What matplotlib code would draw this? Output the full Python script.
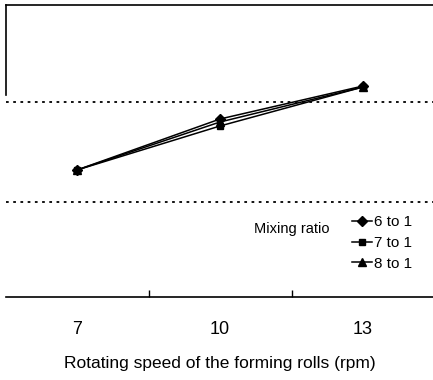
import matplotlib.pyplot as plt

plt.rcParams['font.family'] = ['Liberation Sans', 'DejaVu Sans']

speeds = ['7', '10', '13']
ratio_labels = ['6 to 1', '7 to 1', '8 to 1']
ratio_6 = [1.32, 1.83, 2.16]
ratio_7 = [1.32, 1.76, 2.15]
ratio_8 = [1.32, 1.80, 2.15]
markers = ['D', 's', '^']

fig = plt.figure(figsize=(4.33, 3.8), dpi=100)
ax = fig.add_axes([5.5 / 433, 1 - 297 / 380, 429 / 433, 292 / 380])

x = list(range(len(speeds)))
for vals, lab, m in zip([ratio_6, ratio_7, ratio_8], ratio_labels, markers):
    ms = 6 if m == '^' else 5
    ax.plot(x, vals, color='black', lw=1.1, marker=m, ms=ms, label=lab)

for g in [1, 2]:
    ax.axhline(g, color='black', lw=1.3, linestyle=(0, (1.5, 2.5)), zorder=0)

ax.set_xlim(-0.5, 2.5)
ax.set_ylim(0.05, 2.97)

ax.spines['right'].set_visible(False)
ax.spines['left'].set_bounds(2.07, 2.97)
for s in ['left', 'top', 'bottom']:
    ax.spines[s].set_linewidth(1.2)

ax.set_yticks([])
ax.set_xticks([0.5, 1.5])
ax.set_xticklabels(['', ''])
ax.tick_params(axis='x', which='major', direction='in', length=5, width=1)
ax.set_xticks(x, minor=True)
ax.set_xticklabels(speeds, minor=True, fontsize=13)
ax.tick_params(axis='x', which='minor', length=0, pad=17)
ax.set_xlabel('Rotating speed of the forming rolls (rpm)', fontsize=12.5, labelpad=13)

fig.text(254 / 433, 1 - 229 / 380, 'Mixing ratio', fontsize=10.5, va='center')
ax.legend(loc='upper left', bbox_to_anchor=(352 / 433, 1 - 215 / 380),
          bbox_transform=fig.transFigure, frameon=False, fontsize=11,
          handlelength=1.3, handletextpad=0.15, labelspacing=0.45,
          borderpad=0, borderaxespad=0)

fig.savefig('out.png', dpi=100)
